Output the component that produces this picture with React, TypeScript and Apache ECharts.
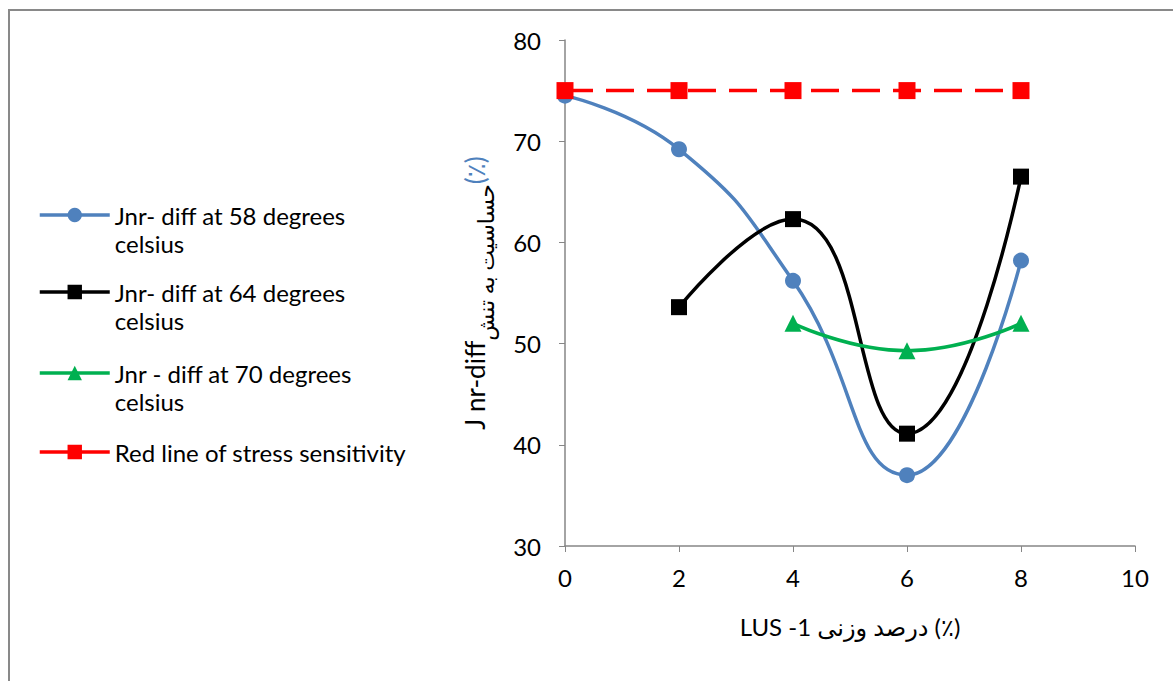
import React, { useEffect, useRef } from "react";
import * as echarts from "echarts";

const xValues = [0, 2, 4, 6, 8];
const jnr58 = [74.5, 69.2, 56.2, 37.0, 58.2];
const jnr64 = [null, 53.6, 62.3, 41.1, 66.5];
const jnr70 = [null, null, 52.0, 49.3, 52.0];
const redLine = [75, 75, 75, 75, 75];

const seriesNames = [
  "Jnr- diff at 58 degrees\ncelsius",
  "Jnr- diff at 64 degrees\ncelsius",
  "Jnr - diff at 70 degrees\ncelsius",
  "Red line of stress sensitivity",
];

const FONT = "Lato, 'DejaVu Sans', sans-serif";

function pairs(vals: (number | null)[]) {
  return xValues
    .map((x, i) => (vals[i] == null ? null : [x, vals[i]]))
    .filter((p) => p !== null);
}

export default function App() {
  const ref = useRef<HTMLDivElement>(null);
  useEffect(() => {
    const chart = echarts.init(ref.current!, null, { renderer: "svg" });
    const legendTops = [173, 250, 331, 438];
    const twoLine = [true, true, true, false];
    const legends = seriesNames.map((n, i) => ({
      orient: "vertical",
      left: 38,
      top: legendTops[i],
      padding: 0,
      itemWidth: 70,
      itemHeight: 18,
      itemGap: 0,
      formatter: (name: string) => (twoLine[i] ? " \n" + name : name),
      textStyle: {
        fontSize: 24,
        lineHeight: 28,
        color: "#000",
        fontFamily: FONT,
      },
      lineStyle: { type: "solid", width: 3.5 },
      data: [n],
    }));
    chart.setOption({
      animation: false,
      backgroundColor: "#fff",
      graphic: [
        {
          type: "rect",
          shape: { x: 9, y: 10, width: 1200, height: 720 },
          style: { fill: "none", stroke: "#898989", lineWidth: 2 },
          silent: true,
        },
      ],
      legend: legends,
      grid: { left: 565, right: 38, top: 40, bottom: 135 },
      xAxis: {
        type: "value",
        min: 0,
        max: 10,
        interval: 2,
        splitLine: { show: false },
        axisLine: { lineStyle: { color: "#868686", width: 1.5 } },
        axisTick: { length: 6, lineStyle: { color: "#868686" } },
        axisLabel: { fontSize: 24, color: "#000", fontFamily: FONT, margin: 19 },
        name: "{a|LUS -1 }{b|درصد وزنی}{c| (٪)}",
        nameLocation: "middle",
        nameGap: 68,
        nameTextStyle: {
          rich: {
            a: { fontSize: 24, fontFamily: FONT, color: "#000" },
            b: { fontSize: 24, fontFamily: FONT, color: "#000" },
            c: { fontSize: 24, fontFamily: FONT, color: "#000" },
          },
        },
      },
      yAxis: {
        type: "value",
        min: 30,
        max: 80,
        interval: 10,
        splitLine: { show: false },
        axisLine: { show: true, lineStyle: { color: "#868686", width: 1.5 } },
        axisTick: { show: true, length: 6, lineStyle: { color: "#868686" } },
        axisLabel: { fontSize: 24, color: "#000", fontFamily: FONT, margin: 24 },
        name: "{a|J nr-diff}{b|حساسیت به تنش}{c|(٪)}",
        nameLocation: "middle",
        nameRotate: 90,
        nameGap: 77,
        nameTextStyle: {
          rich: {
            a: { fontSize: 26, fontFamily: FONT, color: "#000", verticalAlign: "bottom" },
            b: { fontSize: 22, fontFamily: FONT, color: "#000", verticalAlign: "bottom", padding: [0, 0, -8, 0] },
            c: { fontSize: 26, fontFamily: FONT, color: "#4F81BD", verticalAlign: "bottom" },
          },
        },
      },
      series: [
        {
          name: seriesNames[0],
          type: "line",
          data: pairs(jnr58),
          smooth: 0.5,
          symbol: "circle",
          symbolSize: 16,
          color: "#4F81BD",
          lineStyle: { width: 3.5, color: "#4F81BD" },
          itemStyle: { color: "#4F81BD" },
          z: 2,
        },
        {
          name: seriesNames[1],
          type: "line",
          data: pairs(jnr64),
          smooth: 0.5,
          symbol: "rect",
          symbolSize: 16,
          color: "#000",
          lineStyle: { width: 3.5, color: "#000" },
          itemStyle: { color: "#000" },
          z: 3,
        },
        {
          name: seriesNames[2],
          type: "line",
          data: pairs(jnr70),
          smooth: 0.5,
          symbol: "triangle",
          symbolSize: 17,
          color: "#00B050",
          lineStyle: { width: 3.5, color: "#00B050" },
          itemStyle: { color: "#00B050" },
          z: 4,
        },
        {
          name: seriesNames[3],
          type: "line",
          data: pairs(redLine),
          symbol: "rect",
          symbolSize: 17,
          color: "#FF0000",
          lineStyle: { width: 3.5, color: "#FF0000", type: [28, 13] },
          itemStyle: { color: "#FF0000" },
          z: 5,
        },
      ],
    });
    return () => chart.dispose();
  }, []);
  return (
    <div
      ref={ref}
      style={{ position: "absolute", left: 0, top: 0, width: 1173, height: 681 }}
    />
  );
}
